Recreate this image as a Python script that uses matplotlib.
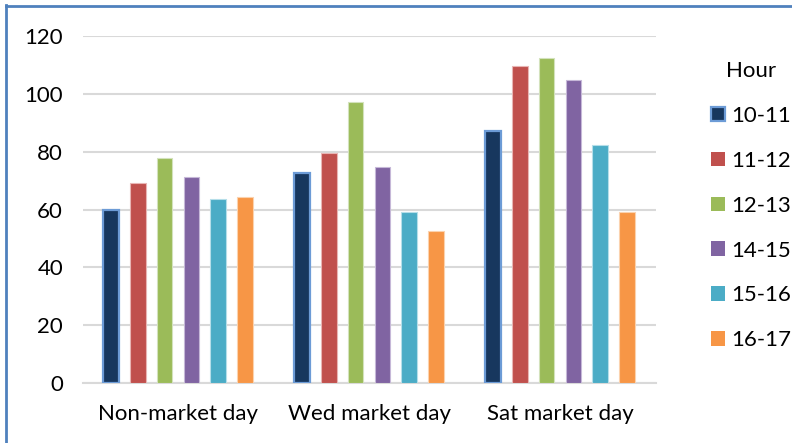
import matplotlib
matplotlib.use("Agg")
import matplotlib.pyplot as plt
import numpy as np
from matplotlib.patches import Patch
from matplotlib.lines import Line2D

categories = ["Non-market day", "Wed market day", "Sat market day"]
hours = ["10-11", "11-12", "12-13", "14-15", "15-16", "16-17"]
v_10_11 = [60.0, 72.5, 87.1]
v_11_12 = [69.3, 79.6, 109.6]
v_12_13 = [77.9, 97.3, 112.3]
v_14_15 = [71.1, 74.7, 104.8]
v_15_16 = [63.5, 59.0, 82.3]
v_16_17 = [64.4, 52.7, 59.2]
series = [v_10_11, v_11_12, v_12_13, v_14_15, v_15_16, v_16_17]
colors = ["#17375E", "#C0504D", "#9BBB59", "#8064A2", "#4BACC6", "#F79646"]
edges = ["#6C9BD6", "#E8B5B4", "#D3E2BC", "#C6B8D8", "#B5DEE9", "#FBD2AE"]

plt.rcParams['font.family'] = ['Lato', 'DejaVu Sans']
FS = 16

fig = plt.figure(figsize=(7.92, 4.43), dpi=100)
W, H = 792, 443
ax = fig.add_axes([82.5 / W, 60 / H, 573 / W, 347 / H])

x = np.arange(len(categories))
pitch = 0.14
width = 0.081
handles = []
for i, (vals, c, e) in enumerate(zip(series, colors, edges)):
    lw = 1.6 if i == 0 else 0.8
    ax.bar(x + (i - 2.5) * pitch, vals, width, color=c, edgecolor=e, linewidth=lw, zorder=3)
    handles.append(Patch(facecolor=c, edgecolor=e if i == 0 else c,
                         linewidth=1.6 if i == 0 else 0, label=hours[i]))

ax.set_xlim(-0.5, 2.5)
ax.set_ylim(0, 120)
ax.set_yticks(np.arange(0, 121, 20))
ax.set_xticks(x)
ax.set_xticklabels(categories)
ax.grid(axis='y', color='#D9D9D9', linewidth=1.5, zorder=0)
ax.set_axisbelow(True)
for s in ['top', 'right', 'left']:
    ax.spines[s].set_visible(False)
ax.spines['bottom'].set_color('#D9D9D9')
ax.spines['bottom'].set_linewidth(1.5)
ax.tick_params(axis='y', length=0, pad=14, labelsize=FS, labelcolor='black')
ax.tick_params(axis='x', length=0, pad=15, labelsize=FS, labelcolor='black')

leg = fig.legend(handles=handles, title="Hour", loc='upper left',
                 bbox_to_anchor=(711 / W, 1 - 61 / H), frameon=False,
                 fontsize=FS, title_fontsize=FS, handlelength=0.63,
                 handleheight=0.63, handletextpad=0.3, labelspacing=1.12,
                 borderaxespad=0, borderpad=0)

# figure border (left and top visible)
fig.add_artist(Line2D([5.5 / W, 5.5 / W], [0, 1 - 5 / H], transform=fig.transFigure,
                      color='#4F81BD', linewidth=2))
fig.add_artist(Line2D([5.5 / W, 1], [1 - 6 / H, 1 - 6 / H], transform=fig.transFigure,
                      color='#4F81BD', linewidth=2))

fig.savefig("out.png", dpi=100)
